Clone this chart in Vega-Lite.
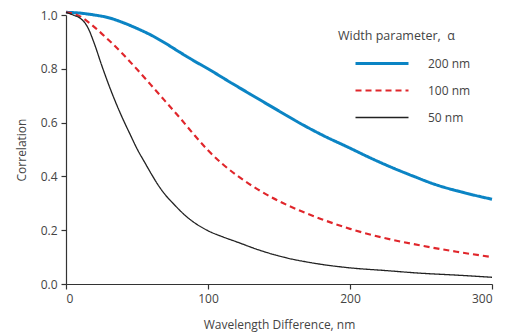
{
  "$schema": "https://vega.github.io/schema/vega-lite/v6.json",
  "width": 426,
  "height": 269,
  "autosize": {"type": "none"},
  "padding": {"left": 66, "top": 15, "right": 16, "bottom": 51},
  "background": "white",
  "config": {
    "view": {"stroke": null},
    "font": "Open Sans",
    "axis": {"grid": false, "domainColor": "#333", "tickColor": "#333", "labelColor": "#444", "titleColor": "#444", "labelFont": "Open Sans", "titleFont": "Open Sans", "labelFontSize": 12, "titleFontSize": 12, "titleFontWeight": "normal", "tickSize": 5, "domainWidth": 1.2, "tickWidth": 1.2}
  },
  "data": {"values": [
    {"x": 0, "y": 1.01, "a": "200 nm"}, {"x": 10, "y": 1.007, "a": "200 nm"}, {"x": 20, "y": 1.0, "a": "200 nm"}, {"x": 30, "y": 0.99, "a": "200 nm"}, {"x": 40, "y": 0.972, "a": "200 nm"}, {"x": 50, "y": 0.95, "a": "200 nm"}, {"x": 60, "y": 0.925, "a": "200 nm"}, {"x": 70, "y": 0.895, "a": "200 nm"}, {"x": 80, "y": 0.862, "a": "200 nm"}, {"x": 90, "y": 0.83, "a": "200 nm"}, {"x": 100, "y": 0.8, "a": "200 nm"}, {"x": 115, "y": 0.752, "a": "200 nm"}, {"x": 130, "y": 0.705, "a": "200 nm"}, {"x": 150, "y": 0.643, "a": "200 nm"}, {"x": 165, "y": 0.597, "a": "200 nm"}, {"x": 180, "y": 0.555, "a": "200 nm"}, {"x": 200, "y": 0.505, "a": "200 nm"}, {"x": 215, "y": 0.467, "a": "200 nm"}, {"x": 230, "y": 0.432, "a": "200 nm"}, {"x": 245, "y": 0.4, "a": "200 nm"}, {"x": 260, "y": 0.37, "a": "200 nm"}, {"x": 280, "y": 0.34, "a": "200 nm"}, {"x": 300, "y": 0.315, "a": "200 nm"},
    {"x": 0, "y": 1.01, "a": "100 nm"}, {"x": 10, "y": 0.995, "a": "100 nm"}, {"x": 20, "y": 0.955, "a": "100 nm"}, {"x": 30, "y": 0.907, "a": "100 nm"}, {"x": 40, "y": 0.855, "a": "100 nm"}, {"x": 50, "y": 0.798, "a": "100 nm"}, {"x": 60, "y": 0.739, "a": "100 nm"}, {"x": 70, "y": 0.679, "a": "100 nm"}, {"x": 80, "y": 0.619, "a": "100 nm"}, {"x": 90, "y": 0.556, "a": "100 nm"}, {"x": 100, "y": 0.497, "a": "100 nm"}, {"x": 110, "y": 0.447, "a": "100 nm"}, {"x": 120, "y": 0.405, "a": "100 nm"}, {"x": 135, "y": 0.352, "a": "100 nm"}, {"x": 150, "y": 0.308, "a": "100 nm"}, {"x": 165, "y": 0.272, "a": "100 nm"}, {"x": 180, "y": 0.241, "a": "100 nm"}, {"x": 200, "y": 0.205, "a": "100 nm"}, {"x": 225, "y": 0.17, "a": "100 nm"}, {"x": 250, "y": 0.143, "a": "100 nm"}, {"x": 275, "y": 0.12, "a": "100 nm"}, {"x": 300, "y": 0.1, "a": "100 nm"},
    {"x": 0, "y": 1.01, "a": "50 nm"}, {"x": 5, "y": 1.0, "a": "50 nm"}, {"x": 10, "y": 0.988, "a": "50 nm"}, {"x": 15, "y": 0.957, "a": "50 nm"}, {"x": 20, "y": 0.893, "a": "50 nm"}, {"x": 25, "y": 0.815, "a": "50 nm"}, {"x": 30, "y": 0.742, "a": "50 nm"}, {"x": 35, "y": 0.675, "a": "50 nm"}, {"x": 40, "y": 0.614, "a": "50 nm"}, {"x": 45, "y": 0.558, "a": "50 nm"}, {"x": 50, "y": 0.503, "a": "50 nm"}, {"x": 55, "y": 0.456, "a": "50 nm"}, {"x": 60, "y": 0.41, "a": "50 nm"}, {"x": 65, "y": 0.367, "a": "50 nm"}, {"x": 70, "y": 0.331, "a": "50 nm"}, {"x": 75, "y": 0.302, "a": "50 nm"}, {"x": 85, "y": 0.25, "a": "50 nm"}, {"x": 100, "y": 0.198, "a": "50 nm"}, {"x": 110, "y": 0.176, "a": "50 nm"}, {"x": 120, "y": 0.157, "a": "50 nm"}, {"x": 135, "y": 0.128, "a": "50 nm"}, {"x": 150, "y": 0.104, "a": "50 nm"}, {"x": 175, "y": 0.077, "a": "50 nm"}, {"x": 200, "y": 0.06, "a": "50 nm"}, {"x": 225, "y": 0.05, "a": "50 nm"}, {"x": 250, "y": 0.04, "a": "50 nm"}, {"x": 275, "y": 0.033, "a": "50 nm"}, {"x": 300, "y": 0.025, "a": "50 nm"}
  ]},
  "mark": {"type": "line", "interpolate": "monotone", "clip": false},
  "encoding": {
    "x": {"field": "x", "type": "quantitative", "scale": {"domain": [0, 300], "nice": false}, "axis": {"values": [0, 100, 200, 300], "title": "Wavelength Difference, nm", "titlePadding": 15, "labelPadding": 4}},
    "y": {"field": "y", "type": "quantitative", "scale": {"domain": [0, 1], "nice": false}, "axis": {"values": [0, 0.2, 0.4, 0.6, 0.8, 1.0], "format": ".1f", "title": "Correlation", "titlePadding": 12, "labelPadding": 4}},
    "color": {"field": "a", "type": "nominal", "scale": {"domain": ["200 nm", "100 nm", "50 nm"], "range": ["#0b84c4", "#e0262b", "#222222"]},
      "legend": {"title": "Width parameter,\u00a0\u00a0α", "orient": "none", "legendX": 272, "legendY": 15, "symbolType": "stroke", "symbolSize": 2809, "symbolStrokeWidth": 2, "clipHeight": 16, "rowPadding": 11, "symbolOffset": 16, "labelOffset": 18, "labelFont": "Open Sans", "labelFontSize": 12, "labelColor": "#444", "titleFont": "Open Sans", "titleFontSize": 12.5, "titleFontWeight": "normal", "titleColor": "#444", "titlePadding": 13}},
    "strokeDash": {"field": "a", "type": "nominal", "scale": {"domain": ["200 nm", "100 nm", "50 nm"], "range": [[1, 0], [6, 4], [1, 0]]}, "legend": null},
    "strokeWidth": {"field": "a", "type": "nominal", "scale": {"domain": ["200 nm", "100 nm", "50 nm"], "range": [3, 1.3, 1.3]}, "legend": null}
  }
}
